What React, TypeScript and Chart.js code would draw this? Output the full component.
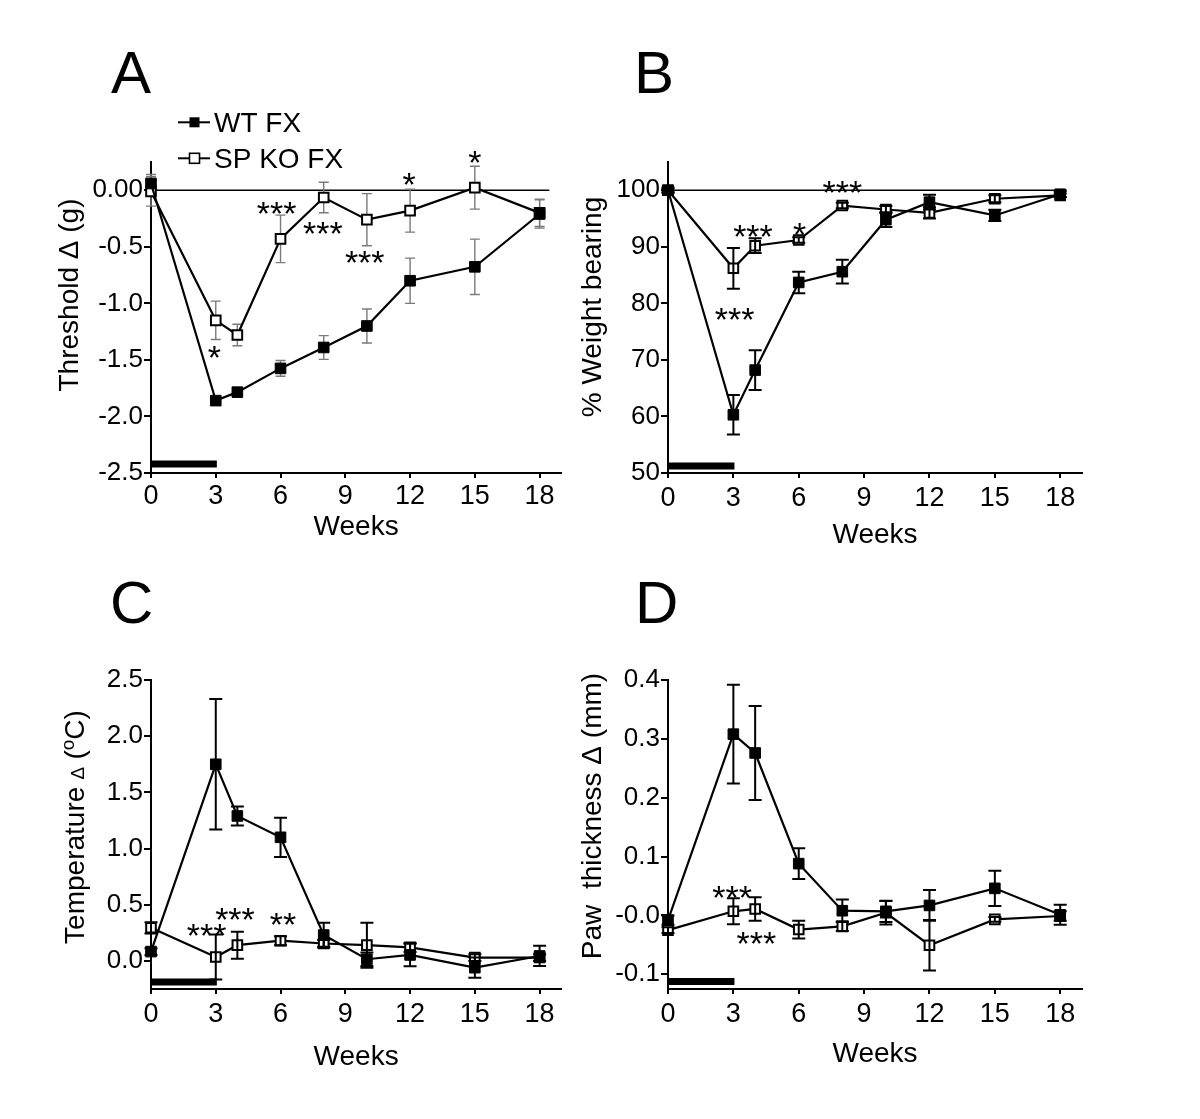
import React, { useEffect, useRef } from "react";
import { Chart, registerables } from "chart.js";

Chart.register(...registerables);

const FONT = '"Liberation Sans", Arial, Helvetica, sans-serif';

// ---------- shared data ----------
const weeks = [0, 3, 4, 6, 8, 10, 12, 15, 18];
const xTicks = [0, 3, 6, 9, 12, 15, 18];
const xTickLabels = ["0", "3", "6", "9", "12", "15", "18"];
const seriesNames = ["WT FX", "SP KO FX"];
const treatmentWeeks = [0, 3.05];

// ---------- A: mechanical threshold ----------
const thresholdWT = [0.06, -1.86, -1.785, -1.575, -1.39, -1.2, -0.8, -0.677, -0.21];
const thresholdWTErr = [0.08, 0.03, 0.03, 0.07, 0.105, 0.15, 0.2, 0.245, 0.125];
const thresholdKO = [-0.01, -1.15, -1.28, -0.43, -0.064, -0.26, -0.18, 0.023, -0.2];
const thresholdKOErr = [0.13, 0.17, 0.095, 0.21, 0.135, 0.23, 0.19, 0.19, 0.12];
const thresholdTicks = [-2.5, -2, -1.5, -1, -0.5, 0];
const thresholdTickLabels = ["-2.5", "-2.0", "-1.5", "-1.0", "-0.5", "0.00"];
const thresholdStarWeeks = [2.94, 5.82, 7.96, 9.9, 11.96, 15.0];
const thresholdStarValues = [-1.406, -0.137, -0.312, -0.566, 0.125, 0.315];
const thresholdStarLabels = ["*", "***", "***", "***", "*", "*"];

// ---------- B: weight bearing ----------
const weightWT = [100, 60.3, 68.2, 83.7, 85.6, 94.8, 97.9, 95.55, 99.3];
const weightWTErr = [0.5, 3.5, 3.5, 1.9, 2.1, 1.3, 1.3, 1.0, 0.5];
const weightKO = [100, 86.2, 90.2, 91.2, 97.3, 96.6, 96.0, 98.5, 99.1];
const weightKOErr = [0.3, 3.6, 1.3, 0.5, 0.5, 0.6, 1.0, 0.6, 0.3];
const weightTicks = [50, 60, 70, 80, 90, 100];
const weightTickLabels = ["50", "60", "70", "80", "90", "100"];
const weightStarWeeks = [3.9, 6.04, 8.0, 3.06];
const weightStarValues = [93.2, 93.6, 101.0, 78.6];
const weightStarLabels = ["***", "*", "***", "***"];

// ---------- C: temperature ----------
const tempWT = [0.083, 1.75, 1.29, 1.1, 0.23, 0.015, 0.053, -0.06, 0.044];
const tempWTErr = [0.03, 0.58, 0.085, 0.175, 0.11, 0.06, 0.1, 0.09, 0.09];
const tempKO = [0.295, 0.035, 0.14, 0.18, 0.155, 0.14, 0.12, 0.03, 0.03];
const tempKOErr = [0.05, 0.2, 0.12, 0.04, 0.03, 0.2, 0.04, 0.03, 0.03];
const tempTicks = [0, 0.5, 1, 1.5, 2, 2.5];
const tempTickLabels = ["0.0", "0.5", "1.0", "1.5", "2.0", "2.5"];
const tempStarWeeks = [2.58, 3.89, 6.11];
const tempStarValues = [0.295, 0.443, 0.398];
const tempStarLabels = ["***", "***", "**"];

// ---------- D: paw thickness ----------
const pawWT = [-0.008, 0.308, 0.276, 0.088, 0.008, 0.007, 0.017, 0.046, 0.001];
const pawWTErr = [0.008, 0.084, 0.08, 0.026, 0.019, 0.018, 0.026, 0.03, 0.017];
const pawKO = [-0.025, 0.007, 0.011, -0.024, -0.0185, 0.0045, -0.0506, -0.0067, -0.001];
const pawKOErr = [0.005, 0.022, 0.02, 0.015, 0.008, 0.02, 0.043, 0.004, 0.008];
const pawTicks = [-0.1, 0, 0.1, 0.2, 0.3, 0.4];
const pawTickLabels = ["-0.1", "-0.0", "0.1", "0.2", "0.3", "0.4"];
const pawStarWeeks = [2.94, 4.06];
const pawStarValues = [0.0438, -0.0337];
const pawStarLabels = ["***", "***"];

type Seg = { text: string; size: number; rise?: number };

type PanelCfg = {
  letter: string;
  letterX: number;
  letterY: number;
  left: number;
  top: number;
  width: number;
  height: number;
  area: { l: number; t: number; r: number; b: number };
  yMin: number;
  yMax: number;
  yTicks: number[];
  yTickLabels: string[];
  wt: number[];
  wtErr: number[];
  ko: number[];
  koErr: number[];
  errColor: string;
  errWidth: number;
  errCap: number;
  barsOnTop: boolean;
  refY: number | null;
  refEnd: number;
  barOffset: number;
  starWeeks: number[];
  starValues: number[];
  starLabels: string[];
  title: Seg[];
  titleX: number;
  titleY: number;
  weeksY: number;
  xLabelPad: number;
  legend: boolean;
};

function drawRich(ctx: CanvasRenderingContext2D, segs: Seg[], cx: number, cy: number, rotate: boolean) {
  ctx.save();
  ctx.translate(cx, cy);
  if (rotate) ctx.rotate(-Math.PI / 2);
  let total = 0;
  const widths = segs.map((s) => {
    ctx.font = `${s.size}px ${FONT}`;
    const w = ctx.measureText(s.text).width;
    total += w;
    return w;
  });
  let x = -total / 2;
  const baseY = segs[0].size * 0.358;
  ctx.textBaseline = "alphabetic";
  ctx.textAlign = "left";
  ctx.fillStyle = "#000";
  segs.forEach((s, i) => {
    ctx.font = `${s.size}px ${FONT}`;
    ctx.fillText(s.text, x, baseY - (s.rise || 0));
    x += widths[i];
  });
  ctx.restore();
}

function makeDecor(cfg: PanelCfg) {
  const drawErr = (chart: any) => {
    const ctx = chart.ctx as CanvasRenderingContext2D;
    const xs = chart.scales.x;
    const ys = chart.scales.y;
    ctx.save();
    ctx.strokeStyle = cfg.errColor;
    ctx.lineWidth = cfg.errWidth;
    const sets = [
      [cfg.wt, cfg.wtErr],
      [cfg.ko, cfg.koErr],
    ];
    sets.forEach(([vals, errs]) => {
      weeks.forEach((w, i) => {
        const px = xs.getPixelForValue(w);
        const y1 = ys.getPixelForValue(vals[i] + errs[i]);
        const y2 = ys.getPixelForValue(vals[i] - errs[i]);
        ctx.beginPath();
        ctx.moveTo(px, y1);
        ctx.lineTo(px, y2);
        ctx.moveTo(px - cfg.errCap, y1);
        ctx.lineTo(px + cfg.errCap, y1);
        ctx.moveTo(px - cfg.errCap, y2);
        ctx.lineTo(px + cfg.errCap, y2);
        ctx.stroke();
      });
    });
    ctx.restore();
  };
  return {
    id: "decor" + cfg.letter,
    beforeDatasetsDraw(chart: any) {
      const ctx = chart.ctx as CanvasRenderingContext2D;
      const xs = chart.scales.x;
      const ys = chart.scales.y;
      const area = chart.chartArea;
      ctx.save();
      ctx.strokeStyle = "#000";
      if (cfg.refY !== null) {
        ctx.lineWidth = 1.5;
        const yy = ys.getPixelForValue(cfg.refY);
        ctx.beginPath();
        ctx.moveTo(xs.getPixelForValue(0), yy);
        ctx.lineTo(xs.getPixelForValue(cfg.refEnd), yy);
        ctx.stroke();
      }
      // treatment period bar
      ctx.lineWidth = 7;
      ctx.lineCap = "butt";
      const by = area.bottom - cfg.barOffset;
      ctx.beginPath();
      ctx.moveTo(xs.getPixelForValue(treatmentWeeks[0]), by);
      ctx.lineTo(xs.getPixelForValue(treatmentWeeks[1]), by);
      ctx.stroke();
      ctx.restore();
      if (!cfg.barsOnTop) drawErr(chart);
    },
    afterDatasetsDraw(chart: any) {
      if (cfg.barsOnTop) drawErr(chart);
    },
    afterDraw(chart: any) {
      const ctx = chart.ctx as CanvasRenderingContext2D;
      const xs = chart.scales.x;
      const ys = chart.scales.y;
      const area = chart.chartArea;
      ctx.save();
      ctx.fillStyle = "#000";
      // panel letter
      ctx.font = `60px ${FONT}`;
      ctx.textAlign = "left";
      ctx.textBaseline = "alphabetic";
      ctx.fillText(cfg.letter, cfg.letterX, cfg.letterY);
      // significance stars
      const sSize = 34;
      ctx.font = `${sSize}px ${FONT}`;
      ctx.textAlign = "center";
      cfg.starLabels.forEach((t, i) => {
        const px = xs.getPixelForValue(cfg.starWeeks[i]);
        const py = ys.getPixelForValue(cfg.starValues[i]);
        ctx.fillText(t, px, py + sSize * 0.57);
      });
      ctx.restore();
      // axis titles
      drawRich(ctx, cfg.title, cfg.titleX, cfg.titleY, true);
      drawRich(ctx, [{ text: "Weeks", size: 28 }], (area.left + area.right) / 2, cfg.weeksY, false);
      // legend
      if (cfg.legend) {
        const rows = [122.3, 158.3];
        rows.forEach((ry, i) => {
          ctx.save();
          ctx.strokeStyle = "#000";
          ctx.lineWidth = 2;
          ctx.beginPath();
          ctx.moveTo(178, ry);
          ctx.lineTo(210, ry);
          ctx.stroke();
          if (i === 0) {
            ctx.fillStyle = "#000";
            ctx.fillRect(189.5, ry - 5, 10, 10);
          } else {
            ctx.fillStyle = "#fff";
            ctx.fillRect(189.5, ry - 5, 10, 10);
            ctx.lineWidth = 1.6;
            ctx.strokeRect(189.5, ry - 5, 10, 10);
          }
          ctx.fillStyle = "#000";
          ctx.font = `28px ${FONT}`;
          ctx.textAlign = "left";
          ctx.textBaseline = "alphabetic";
          ctx.fillText(seriesNames[i], 214, ry + 28 * 0.358);
          ctx.restore();
        });
      }
    },
  };
}

function Panel({ cfg }: { cfg: PanelCfg }) {
  const ref = useRef<HTMLCanvasElement | null>(null);
  useEffect(() => {
    if (!ref.current) return;
    const axisCommon = {
      type: "linear" as const,
      border: { display: true, color: "#000", width: 2 },
    };
    const chart = new Chart(ref.current, {
      type: "scatter",
      data: {
        datasets: [
          {
            label: seriesNames[0],
            data: weeks.map((w, i) => ({ x: w, y: cfg.wt[i] })),
            showLine: true,
            borderColor: "#000",
            borderWidth: 2.2,
            pointStyle: "rect",
            pointRadius: 7.5,
            pointBackgroundColor: "#000",
            pointBorderColor: "#000",
            pointBorderWidth: 1,
            clip: false,
          } as any,
          {
            label: seriesNames[1],
            data: weeks.map((w, i) => ({ x: w, y: cfg.ko[i] })),
            showLine: true,
            borderColor: "#000",
            borderWidth: 2.2,
            pointStyle: "rect",
            pointRadius: 6.8,
            pointBackgroundColor: "#fff",
            pointBorderColor: "#000",
            pointBorderWidth: 2,
            clip: false,
          } as any,
        ],
      },
      options: {
        animation: false,
        responsive: false,
        devicePixelRatio: 1,
        events: [],
        layout: {
          padding: { left: 0, top: cfg.area.t, right: cfg.width - cfg.area.r, bottom: 0 },
        },
        plugins: {
          legend: { display: false },
          tooltip: { enabled: false },
          title: { display: false },
        },
        scales: {
          x: {
            ...axisCommon,
            position: "bottom",
            min: 0,
            max: 19,
            afterFit: (s: any) => {
              s.height = cfg.height - cfg.area.b;
            },
            afterBuildTicks: (s: any) => {
              s.ticks = xTicks.map((v) => ({ value: v }));
            },
            ticks: {
              callback: (_v: any, i: number) => xTickLabels[i],
              font: { family: FONT, size: 27 },
              color: "#000",
              padding: cfg.xLabelPad,
              maxRotation: 0,
              autoSkip: false,
            },
            grid: {
              display: true,
              drawOnChartArea: false,
              drawTicks: true,
              tickLength: 5,
              color: "#000",
              lineWidth: 2,
            },
          },
          y: {
            ...axisCommon,
            position: "left",
            min: cfg.yMin,
            max: cfg.yMax,
            afterFit: (s: any) => {
              s.width = cfg.area.l;
            },
            afterBuildTicks: (s: any) => {
              s.ticks = cfg.yTicks.map((v) => ({ value: v }));
            },
            ticks: {
              callback: (_v: any, i: number) => cfg.yTickLabels[i],
              font: { family: FONT, size: 26 },
              color: "#000",
              padding: 1,
              autoSkip: false,
            },
            grid: {
              display: true,
              drawOnChartArea: false,
              drawTicks: true,
              tickLength: 7,
              color: "#000",
              lineWidth: 2,
            },
          },
        } as any,
      },
      plugins: [makeDecor(cfg) as any],
    });
    return () => chart.destroy();
  }, [cfg]);
  return (
    <canvas
      ref={ref}
      width={cfg.width}
      height={cfg.height}
      style={{ position: "absolute", left: cfg.left, top: cfg.top, width: cfg.width, height: cfg.height, display: "block" }}
    />
  );
}

const panels: PanelCfg[] = [
  {
    letter: "A",
    letterX: 111,
    letterY: 92.7,
    left: 0,
    top: 0,
    width: 570,
    height: 560,
    area: { l: 151, t: 162, r: 565, b: 473 },
    yMin: -2.5,
    yMax: 0.25,
    yTicks: thresholdTicks,
    yTickLabels: thresholdTickLabels,
    wt: thresholdWT,
    wtErr: thresholdWTErr,
    ko: thresholdKO,
    koErr: thresholdKOErr,
    errColor: "#7a7a7a",
    errWidth: 1.4,
    errCap: 5,
    barsOnTop: false,
    refY: 0,
    refEnd: 18.45,
    barOffset: 9,
    starWeeks: thresholdStarWeeks,
    starValues: thresholdStarValues,
    starLabels: thresholdStarLabels,
    title: [{ text: "Threshold \u0394 (g)", size: 28 }],
    titleX: 68,
    titleY: 295,
    weeksY: 525,
    xLabelPad: 2,
    legend: true,
  },
  {
    letter: "B",
    letterX: 64,
    letterY: 92.7,
    left: 570,
    top: 0,
    width: 630,
    height: 560,
    area: { l: 98, t: 162, r: 512, b: 473 },
    yMin: 50,
    yMax: 105,
    yTicks: weightTicks,
    yTickLabels: weightTickLabels,
    wt: weightWT,
    wtErr: weightWTErr,
    ko: weightKO,
    koErr: weightKOErr,
    errColor: "#000",
    errWidth: 2,
    errCap: 6.5,
    barsOnTop: true,
    refY: 100,
    refEnd: 18.3,
    barOffset: 7,
    starWeeks: weightStarWeeks,
    starValues: weightStarValues,
    starLabels: weightStarLabels,
    title: [{ text: "% Weight bearing", size: 28 }],
    titleX: 21,
    titleY: 307,
    weeksY: 533,
    xLabelPad: 4,
    legend: false,
  },
  {
    letter: "C",
    letterX: 110,
    letterY: 63,
    left: 0,
    top: 560,
    width: 570,
    height: 559,
    area: { l: 151, t: 120, r: 565, b: 429 },
    yMin: -0.25,
    yMax: 2.5,
    yTicks: tempTicks,
    yTickLabels: tempTickLabels,
    wt: tempWT,
    wtErr: tempWTErr,
    ko: tempKO,
    koErr: tempKOErr,
    errColor: "#000",
    errWidth: 2,
    errCap: 6.5,
    barsOnTop: true,
    refY: null,
    refEnd: 0,
    barOffset: 7,
    starWeeks: tempStarWeeks,
    starValues: tempStarValues,
    starLabels: tempStarLabels,
    title: [
      { text: "Temperature ", size: 28 },
      { text: "\u2206", size: 19 },
      { text: " (", size: 28 },
      { text: "o", size: 19, rise: 10 },
      { text: "C)", size: 28 },
    ],
    titleX: 74,
    titleY: 267,
    weeksY: 495,
    xLabelPad: 4,
    legend: false,
  },
  {
    letter: "D",
    letterX: 65,
    letterY: 63,
    left: 570,
    top: 560,
    width: 630,
    height: 559,
    area: { l: 98, t: 120, r: 512, b: 429 },
    yMin: -0.125,
    yMax: 0.4,
    yTicks: pawTicks,
    yTickLabels: pawTickLabels,
    wt: pawWT,
    wtErr: pawWTErr,
    ko: pawKO,
    koErr: pawKOErr,
    errColor: "#000",
    errWidth: 2,
    errCap: 6.5,
    barsOnTop: true,
    refY: null,
    refEnd: 0,
    barOffset: 7.5,
    starWeeks: pawStarWeeks,
    starValues: pawStarValues,
    starLabels: pawStarLabels,
    title: [{ text: "Paw  thickness \u0394 (mm)", size: 28 }],
    titleX: 21,
    titleY: 256,
    weeksY: 492,
    xLabelPad: 4,
    legend: false,
  },
];

export default function App() {
  return (
    <div style={{ position: "absolute", left: 0, top: 0, width: 1200, height: 1119, background: "#fff", overflow: "hidden" }}>
      {panels.map((p) => (
        <Panel key={p.letter} cfg={p} />
      ))}
    </div>
  );
}
